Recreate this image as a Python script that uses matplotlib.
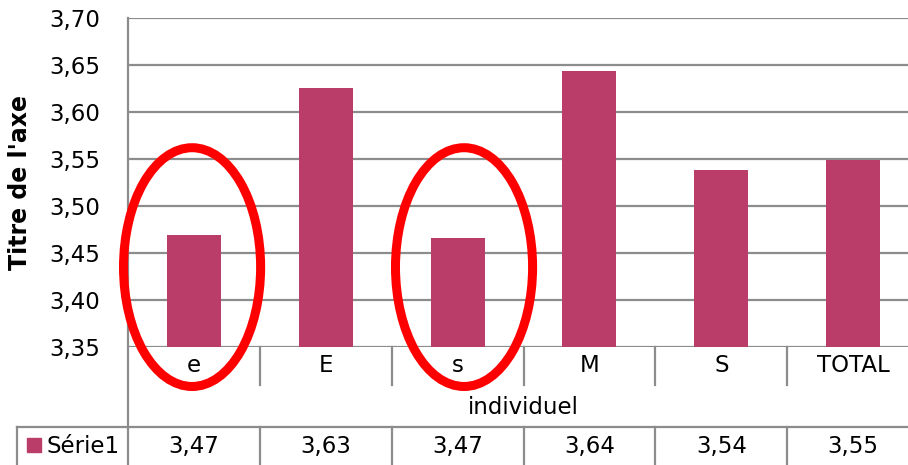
import matplotlib.pyplot as plt
from matplotlib.patches import Ellipse, Rectangle
from matplotlib.lines import Line2D

# data
categories = ['e', 'E', 's', 'M', 'S', 'TOTAL']
values = [3.469, 3.626, 3.466, 3.644, 3.538, 3.549]
series_name = 'Série1'
y_ticks = [3.35, 3.40, 3.45, 3.50, 3.55, 3.60, 3.65, 3.70]
circled = ['e', 's']

bar_color = '#B93D68'
grid_color = '#8C8C8C'
W, H = 908, 465

plt.rcParams['font.family'] = ['DejaVu Sans']

fig = plt.figure(figsize=(W / 100, H / 100), dpi=100)
# axes in pixel terms: left 128, top 18, bottom 347, right 919 (past the edge)
ax = fig.add_axes([128 / W, (H - 347) / H, (919 - 128) / W, 329 / H])

x = list(range(len(categories)))
ax.bar(x, values, width=0.41, color=bar_color, zorder=3)

ax.set_xlim(-0.5, len(categories) - 0.5)
ax.set_ylim(3.35, 3.70)
ax.set_yticks(y_ticks)
ax.set_yticklabels([f'{v:.2f}'.replace('.', ',') for v in y_ticks], fontsize=16.5)
ax.tick_params(axis='y', length=0, pad=20)
ax.set_xticks([])
ax.grid(axis='y', color=grid_color, linewidth=1.6, zorder=0)
for s in ax.spines.values():
    s.set_visible(False)

ax.set_ylabel("Titre de l'axe", fontsize=17, fontweight='bold')
ax.yaxis.set_label_coords(-0.121, 0.5)

# helpers: y in axes fraction from pixel rows
def ay(py):
    return (347 - py) / 329

xt = ax.get_xaxis_transform()
lw_t = 1.6

# vertical axis line down through the table
ax.add_line(Line2D([-0.5, -0.5], [1, ay(470)], transform=xt, color=grid_color,
                   lw=lw_t, clip_on=False, zorder=4))
# category separators
for i in range(1, len(categories)):
    ax.add_line(Line2D([i - 0.5, i - 0.5], [0, ay(385)], transform=xt,
                       color=grid_color, lw=lw_t, clip_on=False))
    ax.add_line(Line2D([i - 0.5, i - 0.5], [ay(427), ay(470)], transform=xt,
                       color=grid_color, lw=lw_t, clip_on=False))
# category labels
for i, c in enumerate(categories):
    ax.text(i, ay(366), c, transform=xt, ha='center', va='center', fontsize=16.5)
ax.text((len(categories) - 1) / 2, ay(408), 'individuel', transform=xt,
        ha='center', va='center', fontsize=16.5)

# data table row
fig.add_artist(Line2D([17 / W, 1], [1 - 427 / H] * 2, color=grid_color, lw=lw_t))
fig.add_artist(Line2D([17 / W, 17 / W], [1 - 427 / H, 0], color=grid_color, lw=lw_t))
for i, v in enumerate(values):
    ax.text(i, ay(446), f'{v:.2f}'.replace('.', ','), transform=xt,
            ha='center', va='center', fontsize=16.5)
fig.add_artist(Rectangle((27 / W, 1 - 452 / H), 14 / W, 14 / H,
                         color=bar_color, transform=fig.transFigure))
fig.text(46 / W, 1 - 446 / H, series_name, ha='left', va='center', fontsize=16.5)

# red ellipses around the circled categories
for c in circled:
    i = categories.index(c)
    off = -0.014 if i == 0 else 0.049
    ax.add_patch(Ellipse((i + off, 3.435), 1.04, 0.254, fill=False,
                         edgecolor='#FF0000', linewidth=6.5, clip_on=False, zorder=5))

fig.savefig('out.png', dpi=100)
